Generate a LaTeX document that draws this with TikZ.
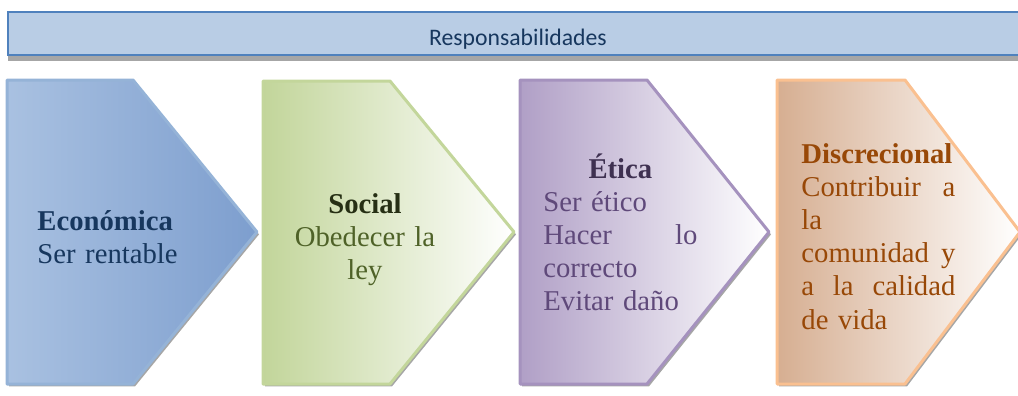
\documentclass[tikz,border=0pt]{standalone}
\usepackage{fontspec}
\setmainfont{Liberation Serif}
\newfontfamily\headfont{Carlito}

\definecolor{headfill}{HTML}{B9CDE5}
\definecolor{headline}{HTML}{4F81BD}
\definecolor{headtext}{HTML}{17375E}
\definecolor{econA}{HTML}{A9C1E1}
\definecolor{econB}{HTML}{7D9ECE}
\definecolor{econline}{HTML}{95B3D7}
\definecolor{econtext}{HTML}{17375E}
\definecolor{socA}{HTML}{C2D59A}
\definecolor{socline}{HTML}{C3D69B}
\definecolor{soctitle}{HTML}{262F14}
\definecolor{soctext}{HTML}{4F6228}
\definecolor{etiA}{HTML}{B09FC6}
\definecolor{etiline}{HTML}{A592BE}
\definecolor{etititle}{HTML}{3F3151}
\definecolor{etitext}{HTML}{5F497A}
\definecolor{disA}{HTML}{D6AE91}
\definecolor{disline}{HTML}{FAC090}
\definecolor{distext}{HTML}{984807}

\begin{document}
\begin{tikzpicture}[x=0.5pt,y=-0.5pt,
    shadowline/.style={fill=black!35, draw=none, xshift=1pt, yshift=-1.2pt},
    chevron/.style={line width=1.5pt, line join=round},
    bodytext/.style={inner sep=0pt, text width=77pt, align=left,
      font=\fontsize{14.35}{16.6}\selectfont},
  ]
  \useasboundingbox (0,0) rectangle (1018,396);

  % Header bar
  \fill[black!35] (8,16) rectangle (1030,61);
  \draw[fill=headfill, draw=headline, line width=1pt] (8,12) rectangle (1030,55);
  \node[anchor=base, inner sep=0pt, text=headtext,
    font=\headfont\fontsize{11.85}{14}\selectfont] (title) at (518,46) {Responsabilidades};

  % Chevrons
  \fill[shadowline] (7,80) -- (133,80) -- (257,232) -- (133,384) -- (7,384) -- cycle;
  \draw[chevron, draw=econline, left color=econA, middle color=econA!65!econB, right color=econB]
    (7,80) -- (133,80) -- (257,232) -- (133,384) -- (7,384) -- cycle;

  \fill[shadowline] (263,81) -- (390,81) -- (514,232) -- (390,384) -- (263,384) -- cycle;
  \draw[chevron, draw=socline, left color=socA, middle color=socA!55, right color=white]
    (263,81) -- (390,81) -- (514,232) -- (390,384) -- (263,384) -- cycle;

  \fill[shadowline] (520,80) -- (647,80) -- (769,232) -- (647,384) -- (520,384) -- cycle;
  \draw[chevron, draw=etiline, left color=etiA, middle color=etiA!50, right color=white]
    (520,80) -- (647,80) -- (769,232) -- (647,384) -- (520,384) -- cycle;

  \fill[shadowline] (777,80) -- (905,80) -- (1020,232) -- (905,384) -- (777,384) -- cycle;
  \draw[chevron, draw=disline, left color=disA, middle color=disA!45, right color=white]
    (777,80) -- (905,80) -- (1020,232) -- (905,384) -- (777,384) -- cycle;

  % Texts
  \node[bodytext, anchor=base west, text=econtext] (econ) at (37,230)
    {\textbf{Económica}\\Ser rentable};
  \node[bodytext, anchor=base, align=center, text=soctext] (social) at (365,213)
    {\textcolor{soctitle}{\textbf{Social}}\\Obedecer la\\ley};
  \node[bodytext, anchor=base west, text=etitext] (etica) at (543,178)
    {\makebox[\linewidth]{\textcolor{etititle}{\textbf{Ética}}}\\Ser ético\\Hacer\hfill lo\\correcto\\Evitar daño};
  \node[bodytext, anchor=base west, text=distext] (disc) at (801,163)
    {\textbf{Discrecional}\\Contribuir\hfill a\\la\\comunidad\hfill y\\a\hfill la\hfill calidad\\de vida};
\end{tikzpicture}
\end{document}
